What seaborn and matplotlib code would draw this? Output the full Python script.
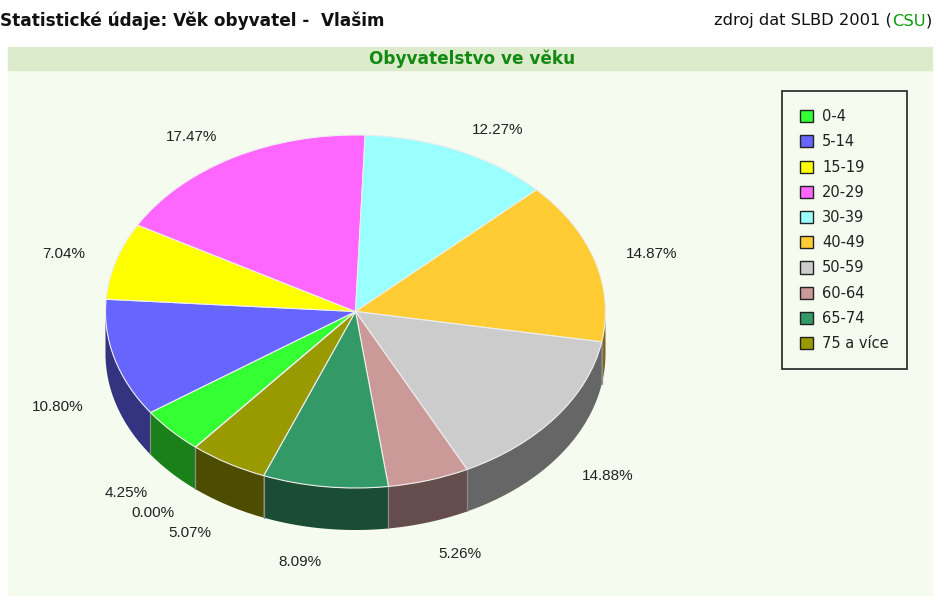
import numpy as np
import matplotlib
matplotlib.use("Agg")
import matplotlib.pyplot as plt
import seaborn as sns
from matplotlib.colors import to_rgb
from matplotlib.patches import Patch, Rectangle

# Data (SLBD 2001, Vlašim)
age_groups = ["0-4", "5-14", "15-19", "20-29", "30-39", "40-49",
              "50-59", "60-64", "65-74", "75 a více", "nezjištěno"]
shares = [4.25, 10.80, 7.04, 17.47, 12.27, 14.87, 14.88, 5.26, 8.09, 5.07, 0.00]
slice_colors = ["#33ff33", "#6666ff", "#ffff00", "#ff66ff", "#99ffff", "#ffcc33",
                "#cccccc", "#cc9999", "#339966", "#999900", "#ff3333"]
pct_labels = [f"{v:.2f}%" for v in shares]

sns.set_style("white")
plt.rcParams['font.family'] = ['Liberation Sans', 'DejaVu Sans']

W, H = 938, 596
fig = plt.figure(figsize=(W / 100, H / 100), dpi=100)
fig.patch.set_facecolor('white')

# page backgrounds: chart area and title band
fig.add_artist(Rectangle((8 / W, 0), 924 / W, (H - 70) / H, transform=fig.transFigure,
                         color='#f5fbef', zorder=0))
fig.add_artist(Rectangle((8 / W, 1 - 70 / H), 924 / W, 23 / H, transform=fig.transFigure,
                         color='#dcebcb', zorder=0))

ax = fig.add_axes([0, 0, 1, 1])
ax.patch.set_alpha(0)

# pixel geometry of the tilted pie
cx, cy, rx, ry = 355.5, 311.5, 250, 176.5
depth = 42 / ry

palette = sns.color_palette(slice_colors)
wedges, texts = ax.pie(shares, labels=pct_labels, colors=palette, startangle=230.2,
                       counterclock=False, labeldistance=1.13,
                       wedgeprops=dict(edgecolor='#eeeeee', linewidth=0.8, zorder=3),
                       textprops=dict(fontsize=11, color='#222222'))

# side wall of the front half
def darker(c, f=0.5):
    return tuple(v * f for v in to_rgb(c))

for w, col in zip(wedges, palette):
    t1, t2 = w.theta1, w.theta2
    for k in range(-2, 2):
        a = max(t1, 180 + 360 * k)
        b = min(t2, 360 + 360 * k)
        if b > a:
            t = np.radians(np.linspace(a, b, 80))
            xs = np.concatenate([np.cos(t), np.cos(t[::-1])])
            ys = np.concatenate([np.sin(t), np.sin(t[::-1]) - depth])
            ax.fill(xs, ys, color=darker(col), lw=0, zorder=1)
    for th in (t1, t2):
        r = np.radians(th)
        if np.sin(r) < -0.01:
            ax.plot([np.cos(r), np.cos(r)], [np.sin(r), np.sin(r) - depth],
                    color='#8c8c8c', lw=0.8, zorder=2)

# labels of the lower half sit below the wall
for t in texts:
    x, y = t.get_position()
    if y < 0:
        s = y / 1.13
        t.set_y(y - depth * (1 + 0.25 * s * s))

ax.set_aspect('auto')
ax.set_xlim(-cx / rx, (W - cx) / rx)
ax.set_ylim((cy - H) / ry, cy / ry)
ax.axis('off')

handles = [Patch(facecolor=c, edgecolor='#222222', linewidth=1) for c in palette[:10]]
leg = ax.legend(handles, age_groups[:10], loc='upper left',
                bbox_to_anchor=(782 / W, 1 - 91 / H), bbox_transform=fig.transFigure,
                borderaxespad=0, frameon=True, fancybox=False, edgecolor='#222222',
                facecolor='#f5fbef', framealpha=1,
                prop=dict(family='DejaVu Sans', size=10.5),
                handlelength=0.9, handleheight=0.9, handletextpad=0.6,
                labelspacing=0.70, borderpad=1.25)
leg.get_frame().set_linewidth(1.2)
for lt in leg.get_texts():
    lt.set_color('#222222')

# header
fig.text(0, 1 - 21 / H, "Statistické údaje: Věk obyvatel -  Vlašim", fontsize=12.2,
         fontweight='bold', family='DejaVu Sans', va='center', ha='left', color='#111111')
fig.text(472 / W, 1 - 59 / H, "Obyvatelstvo ve věku", ha='center', va='center',
         fontsize=12.2, fontweight='bold', color='#128a12', family='DejaVu Sans')

renderer = fig.canvas.get_renderer()
x0 = 714 / W
for piece, col in [("zdroj dat SLBD 2001 (", '#111111'), ("CSU", '#0a9a0a'), (")", '#111111')]:
    txt = fig.text(x0, 1 - 21 / H, piece, color=col, fontsize=11.7, va='center',
                   ha='left', family='DejaVu Sans')
    x0 += txt.get_window_extent(renderer).width / W

fig.savefig("out.png", dpi=100)
